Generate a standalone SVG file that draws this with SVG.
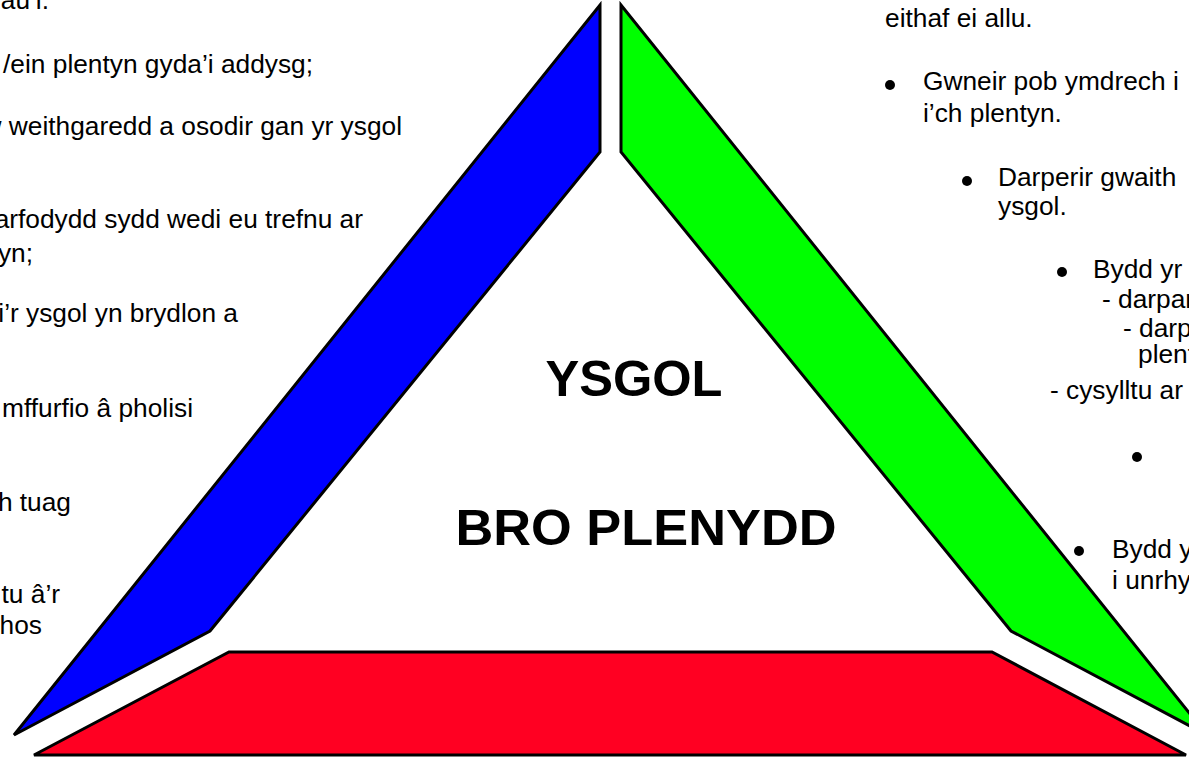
<svg xmlns="http://www.w3.org/2000/svg" width="1189" height="757" viewBox="0 0 1189 757">
<style>
.side{stroke:#000;stroke-width:3;stroke-linejoin:miter}
.t{font-family:"Liberation Sans",Arial,sans-serif;font-size:26.3px;fill:#000}
.e{text-anchor:end}
.title{font-family:"Liberation Sans",Arial,sans-serif;font-size:50px;font-weight:bold;fill:#000;text-anchor:middle}
</style>
<rect width="1189" height="757" fill="#fff"/>
<g id="blue-side"><polygon class="side" fill="#0000FF" points="600,5 600,152 210,631 14,735"/></g>
<g id="green-side"><polygon class="side" fill="#00FF00" points="621,5 621,152 1011,631 1207,735"/></g>
<g id="red-side"><polygon class="side" fill="#FF0022" points="34,755 229,652 992,652 1186,755"/></g>
<g id="centre">
<text class="title" x="634" y="396" textLength="177" lengthAdjust="spacingAndGlyphs">YSGOL</text>
<text class="title" x="646" y="545" textLength="381" lengthAdjust="spacingAndGlyphs">BRO PLENYDD</text>
</g>
<g id="left-text">
<text class="t e" x="49" y="9">au’i.</text>
<text class="t e" x="313" y="73">/ein plentyn gyda’i addysg;</text>
<text class="t e" x="402" y="135">vw weithgaredd a osodir gan yr ysgol</text>
<text class="t e" x="363" y="228">arfodydd sydd wedi eu trefnu ar</text>
<text class="t e" x="33" y="262">yn;</text>
<text class="t e" x="238" y="322">i’r ysgol yn brydlon a</text>
<text class="t e" x="193" y="417">mffurfio â pholisi</text>
<text class="t e" x="71" y="511">h tuag</text>
<text class="t e" x="60" y="603">tu â’r</text>
<text class="t e" x="42" y="634">hos</text>
</g>
<g id="right-text">
<text class="t" x="885" y="27">eithaf ei allu.</text>
<circle cx="890" cy="85" r="5"/>
<text class="t" x="923" y="90">Gwneir pob ymdrech i</text>
<text class="t" x="923" y="122">i’ch plentyn.</text>
<circle cx="967" cy="181" r="5"/>
<text class="t" x="998" y="186">Darperir gwaith</text>
<text class="t" x="998" y="215">ysgol.</text>
<circle cx="1062" cy="272" r="5"/>
<text class="t" x="1093" y="278">Bydd yr</text>
<text class="t" x="1102" y="308">- darpar</text>
<text class="t" x="1123" y="337">- darp</text>
<text class="t" x="1138" y="363">plent</text>
<text class="t" x="1050" y="399">- cysylltu ar</text>
<circle cx="1137" cy="457" r="5"/>
<circle cx="1079" cy="551" r="5"/>
<text class="t" x="1112" y="558">Bydd y</text>
<text class="t" x="1112" y="589">i unrhy</text>
</g>
</svg>
